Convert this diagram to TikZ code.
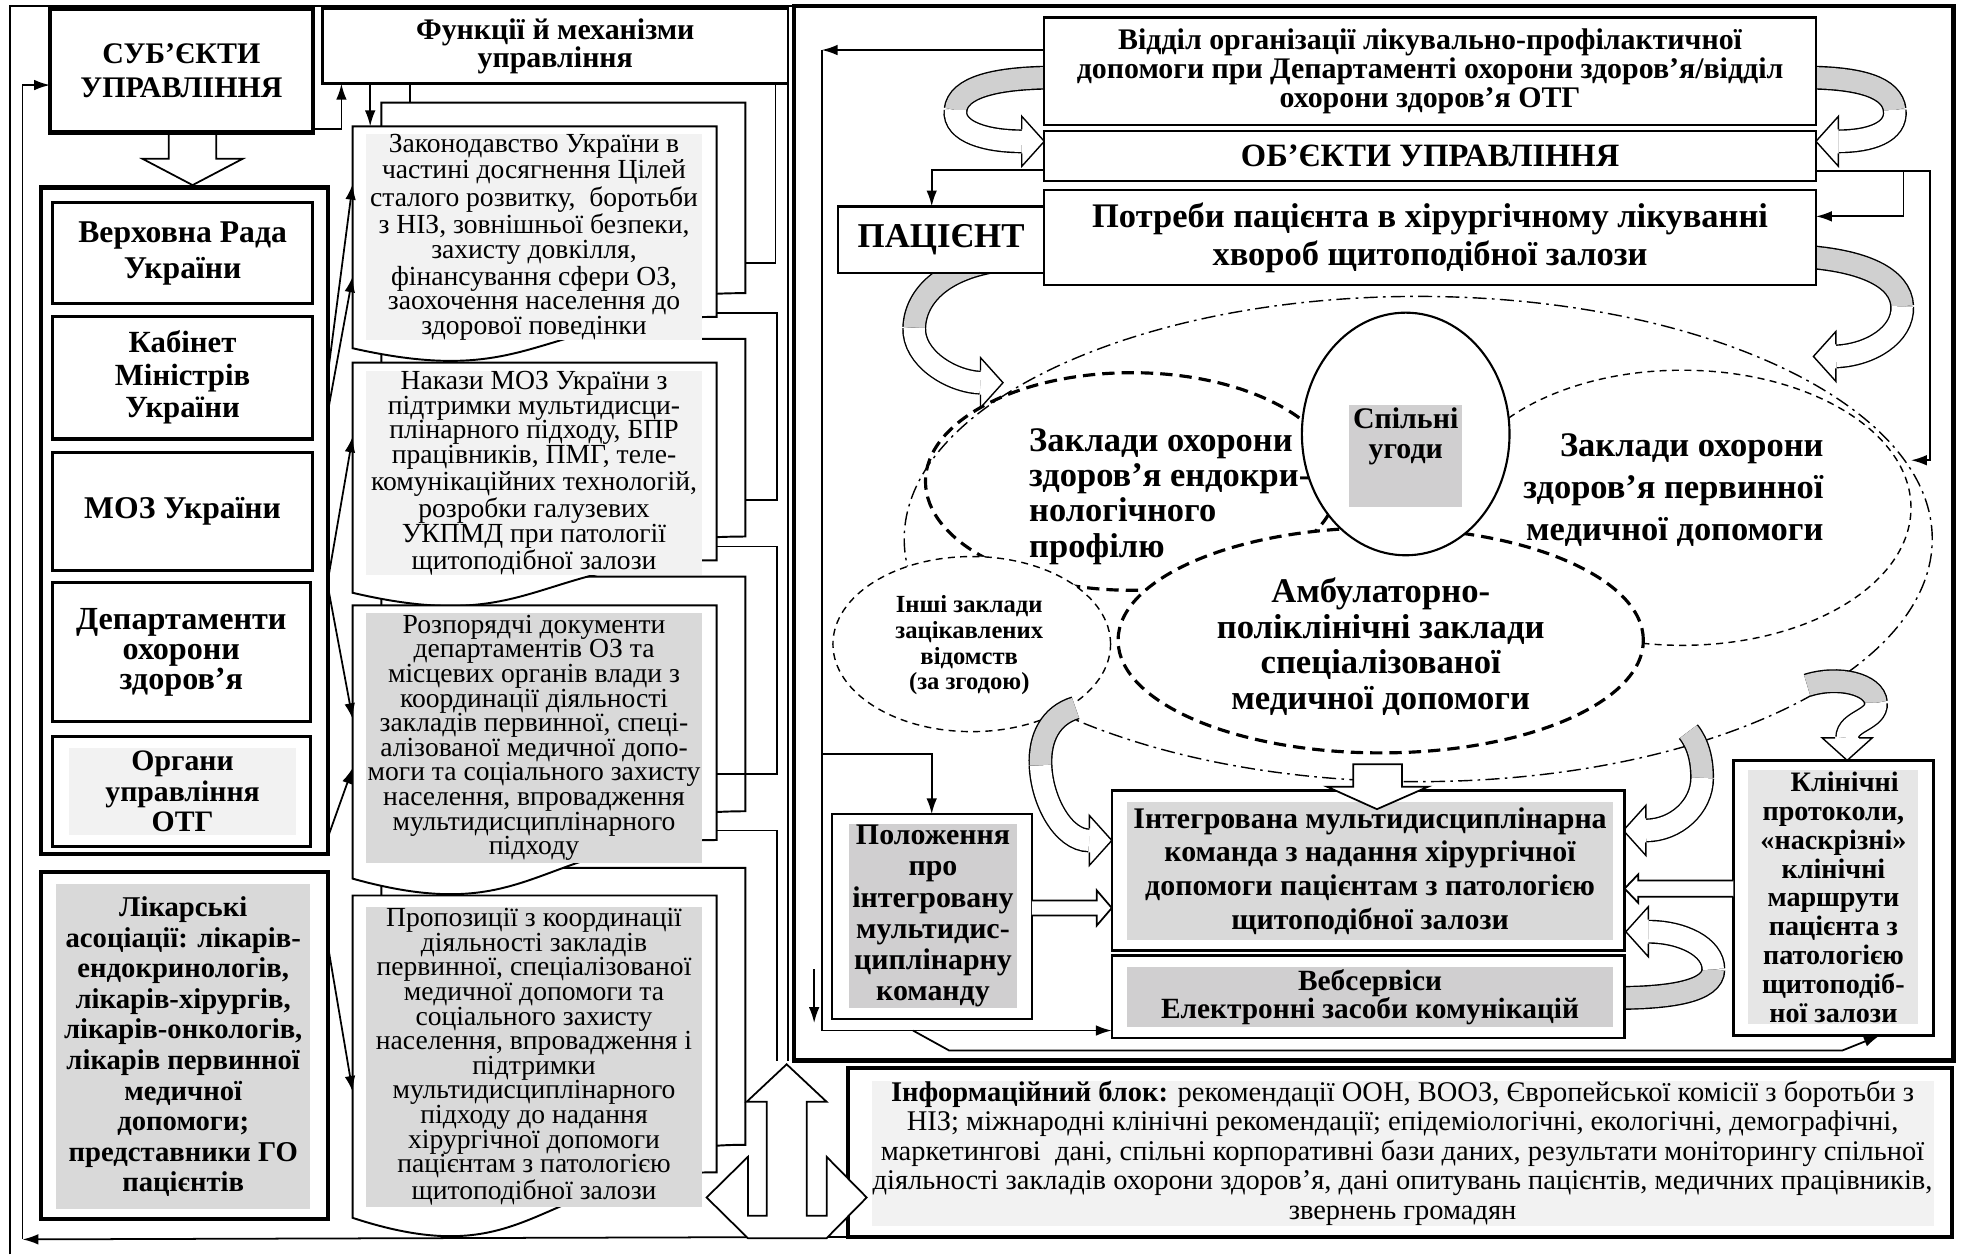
\documentclass[tikz,border=0pt]{standalone}
\usepackage{fontspec}
\setmainfont{Liberation Serif}
\usetikzlibrary{calc,shapes.geometric,arrows.meta}

\newcommand\pxu{0.025cm}
\definecolor{greyA}{HTML}{F2F2F2}
\definecolor{greyB}{HTML}{D9D9D9}
\definecolor{greyC}{HTML}{D0CFD0}
\definecolor{greyD}{HTML}{E6E6E6}
\definecolor{ribbongrey}{HTML}{D0D0D0}

\tikzset{
  sz/.style 2 args={minimum width=#1*\pxu, minimum height=#2*\pxu},
  frame/.style={draw, line width=2.4pt, inner sep=0pt, outer sep=0pt},
  subjbox/.style={draw, line width=1.8pt, fill=white, align=center, inner sep=0pt, outer sep=0pt},
  plainbox/.style={draw, line width=1.3pt, fill=white, align=center, inner sep=0pt, outer sep=0pt},
  greybg/.style={fill=#1, align=center, inner sep=0pt, outer sep=0pt},
  docframe/.style={inner sep=0pt, outer sep=0pt},
  docline/.style={draw, line width=1.1pt, fill=white},
  doctext/.style={font=\fontsize{15.7}{14}\selectfont},
  oval/.style={ellipse, draw, inner sep=0pt, outer sep=0pt},
  conn/.style={line width=1pt},
  arr/.style={line width=1pt, -{Latex[length=9pt,width=6pt]}},
  blockarrow/.style={draw, line width=1pt, fill=white, line join=miter},
  ribbon/.style={draw=black, line width=0.8pt, double=white, double distance=12pt},
  ribbonback/.style={ribbon, double=ribbongrey},
  headline/.style={draw, line width=0.8pt, line join=miter},
  dashdot/.style={line width=0.8pt, dash pattern=on 8pt off 3pt on 1.5pt off 3pt},
  bolddash/.style={line width=1.8pt, dash pattern=on 7pt off 4pt},
  thindash/.style={line width=0.8pt, dash pattern=on 4pt off 3pt}
}

\newcommand\docpath[1]{%
  \draw[docline] (#1.north west) -- (#1.north east)
    -- ($(#1.north east)!0.802!(#1.south east)$)
    .. controls ($(#1.north)!0.802!(#1.south)$) and ($(#1.north)!1.107!(#1.south)$)
    .. ($(#1.north west)!0.934!(#1.south west)$) -- cycle;}

\newcommand\headR[2]{%
  \fill[white] ({#1-18},{#2-20}) -- (#1,#2) -- ({#1-18},{#2+20}) -- cycle;
  \draw[headline] ({#1-18},{#2-9.6}) -- ({#1-18},{#2-20}) -- (#1,#2) -- ({#1-18},{#2+20}) -- ({#1-18},{#2+9.6});}
\newcommand\headL[2]{%
  \fill[white] ({#1+18},{#2-20}) -- (#1,#2) -- ({#1+18},{#2+20}) -- cycle;
  \draw[headline] ({#1+18},{#2-9.6}) -- ({#1+18},{#2-20}) -- (#1,#2) -- ({#1+18},{#2+20}) -- ({#1+18},{#2+9.6});}
\newcommand\headD[2]{%
  \fill[white] ({#1-20},{#2-18}) -- (#1,#2) -- ({#1+20},{#2-18}) -- cycle;
  \draw[headline] ({#1-9.6},{#2-18}) -- ({#1-20},{#2-18}) -- (#1,#2) -- ({#1+20},{#2-18}) -- ({#1+9.6},{#2-18});}

\begin{document}
\begin{tikzpicture}[x=0.025cm, y=-0.025cm]
\useasboundingbox (0,0) rectangle (1568,1007);

\draw[conn] (8,1003) -- (8,5) -- (635,5);
\node[frame, sz={927}{843}] (panel) at (1098.5,426.5) {};

% institutions
\node[oval, dashdot, sz={822}{388}]                 (big)   at (1134,431) {};
\node[oval, bolddash, sz={330}{174}]                (endo)  at (905,385)  {};
\node[oval, thindash, sz={366}{220}]                (prim)  at (1345,406) {};
\node[oval, bolddash, fill=white, sz={420}{180}]    (amb)   at (1104,512) {};
\node[oval, line width=1.2pt, fill=white, sz={166}{194}] (spil) at (1124,347) {};
\node[oval, thindash, fill=white, sz={222}{140}]    (inshi) at (777,515)  {};

\node[greybg=greyC, sz={90}{81}] (spilbg) at (1124,364.5) {};
\node[font=\fontsize{17}{17}\selectfont\bfseries, align=center] (spiltxt) at (1124,349) {Спільні\\угоди};
\node[font=\fontsize{19.6}{20}\selectfont\bfseries, align=left, anchor=west] (endotxt) at (818,397) {Заклади охорони\\здоров’я ендокри-\\нологічного\\профілю};
\node[font=\fontsize{19.6}{24}\selectfont\bfseries, align=right, anchor=east] (primtxt) at (1463,392) {Заклади охорони\\здоров’я первинної\\медичної допомоги};
\node[font=\fontsize{19.7}{20.3}\selectfont\bfseries, align=center] (ambtxt) at (1104,517) {Амбулаторно-\\поліклінічні заклади\\спеціалізованої\\медичної допомоги};
\node[font=\fontsize{14}{14.6}\selectfont\bfseries, align=center] (inshitxt) at (775,516) {Інші заклади\\зацікавлених\\відомств\\(за згодою)};

% curved arrows
\draw[ribbonback] (845,62) .. controls (795,62) and (766,70) .. (764,88);
\draw[ribbon] (764,88) .. controls (762,106) and (790,113) .. (817,113);
\headR{835}{113}
\draw[ribbonback] (1442,62) .. controls (1488,62) and (1513,70) .. (1515,88);
\draw[ribbon] (1515,88) .. controls (1517,106) and (1495,113) .. (1470,113);
\headL{1452}{113}
\draw[ribbonback] (800,208) .. controls (755,214) and (732,236) .. (731,262);
\draw[ribbon] (731,262) .. controls (730,286) and (760,305) .. (784,306);
\headR{802}{306}
\draw[ribbonback] (1440,205) .. controls (1490,208) and (1520,222) .. (1521,245);
\draw[ribbon] (1521,245) .. controls (1522,268) and (1495,284) .. (1468,285);
\headL{1450}{285}
\draw[ribbonback] (860,566) .. controls (840,572) and (831,590) .. (832,612);
\draw[ribbon] (832,612) .. controls (833,640) and (850,672) .. (871,672);
\headR{889}{672}
\draw[ribbonback] (1350,585) .. controls (1358,595) and (1361,608) .. (1361,622);
\draw[ribbon] (1361,622) .. controls (1361,645) and (1340,664) .. (1316,664);
\headL{1298}{664}
\draw[ribbonback] (1445,548) .. controls (1470,540) and (1499,547) .. (1500,562);
\draw[ribbon] (1500,562) .. controls (1501,576) and (1477,576) .. (1477,590);
\headD{1477}{608}
\draw[ribbonback] (1290,798) .. controls (1335,798) and (1370,793) .. (1370,775);
\draw[ribbon] (1370,775) .. controls (1370,757) and (1345,745) .. (1318,745);
\headL{1300}{745}

% objects of management
\node[plainbox, sz={617}{86}, font=\fontsize{17}{16.4}\selectfont\bfseries] (dept) at (1143.5,57) {Відділ організації лікувально-профілактичної\\допомоги при Департаменті охорони здоров’я/відділ\\охорони здоров’я ОТГ};
\node[plainbox, sz={617}{40}, font=\fontsize{18.5}{18}\selectfont\bfseries] (objects) at (1143.5,125) {ОБ’ЄКТИ УПРАВЛІННЯ};
\node[plainbox, sz={165}{53}, font=\fontsize{19.8}{20}\selectfont\bfseries] (patient) at (752.5,191.5) {ПАЦІЄНТ};
\node[plainbox, sz={617}{76}, font=\fontsize{19.6}{21.3}\selectfont\bfseries] (needs) at (1143.5,190) {Потреби пацієнта в хірургічному лікуванні\\хвороб щитоподібної залози};

\node[plainbox, sz={160}{164}] (polozh) at (745,733) {};
\node[greybg=greyC, sz={134}{147}, font=\fontsize{17}{17.8}\selectfont\bfseries] (polozhtxt) at (746,732.5) {Положення\\про\\інтегровану\\мультидис-\\циплінарну\\команду};
\node[plainbox, sz={410}{128}] (integr) at (1094,696) {};
\node[greybg=greyB, sz={389}{111}, font=\fontsize{17}{19.2}\selectfont\bfseries] (integrtxt) at (1095.5,696.5) {Інтегрована мультидисциплінарна\\команда з надання хірургічної\\допомоги пацієнтам з патологією\\щитоподібної залози};
\node[plainbox, sz={410}{66}] (web) at (1094,797) {};
\node[greybg=greyC, sz={389}{48}, font=\fontsize{16.7}{16}\selectfont\bfseries] (webtxt) at (1095.5,797) {Вебсервіси\\Електронні засоби комунікацій};
\node[plainbox, sz={160}{220}] (clin) at (1466,718) {};
\node[greybg=greyD, sz={136}{203}, font=\fontsize{16}{16.4}\selectfont\bfseries] (clintxt) at (1466,717.5) {\hspace*{0.8em}Клінічні\\протоколи,\\«наскрізні»\\клінічні\\маршрути\\пацієнта з\\патологією\\щитоподіб-\\ної залози};

\draw[blockarrow] (polozh.east |- 0,720) -- (877,720) -- (877,712) -- (integr.west |- 0,726) -- (877,740) -- (877,732) -- (polozh.east |- 0,732);
\draw[blockarrow] (clin.west |- 0,704) -- (1310,704) -- (1310,699) -- (integr.east |- 0,710.5) -- (1310,722) -- (1310,717) -- (clin.west |- 0,717);
\draw[blockarrow] (1082,611) -- (1082,629) -- (1061,629) -- (1101,647) -- (1142,629) -- (1121,629) -- (1121,611) -- cycle;

\coordinate (s1) at (651,775);
\coordinate (s2) at (651,818);
\draw[arr] (dept.west |- 0,40) -- (657,40);
\draw[arr] (657,40) |- (web.west |- 0,824);
\draw[arr] (657,603) -| (polozh.north);
\draw[arr] (s1) -- (s2);
\draw[arr] (730,824) -- (759,840) -- (1473,840) -- (clin.south -| 1503,0);
\draw[arr] (objects.west |- 0,136) -| (patient.north -| 745,0);
\draw[arr] (objects.east |- 0,137) -| (1522,173) -- (needs.east |- 0,173);
\draw[arr] (objects.east |- 0,137) -| (1543,368) -- (prim.east |- 0,368);

% subjects of management
\draw[blockarrow] (135,106) -- (135,127) -- (114,127) -- (154,148) -- (194,127) -- (173,127) -- (173,106) -- cycle;
\node[subjbox, line width=2.4pt, sz={210}{99}, font=\fontsize{17}{19.5}\selectfont\bfseries] (subj) at (145,56.5) {СУБ’ЄКТИ\\УПРАВЛІННЯ};
\node[plainbox, line width=1.5pt, sz={372}{60}, font=\fontsize{17}{15.6}\selectfont\bfseries] (func) at (444,37) {Функції й механізми\\управління};

\node[frame, sz={229}{533}] (list) at (147.5,416.5) {};
\node[subjbox, sz={208}{81},  font=\fontsize{18}{20.6}\selectfont\bfseries] (rada) at (146,202.5) {Верховна Рада\\України};
\node[subjbox, sz={208}{98},  font=\fontsize{17.5}{18.5}\selectfont\bfseries] (kmu)  at (146,302)   {Кабінет\\Міністрів\\України};
\node[subjbox, sz={208}{94},  font=\fontsize{18}{20}\selectfont\bfseries]   (moz)  at (146,409)   {МОЗ України};
\node[subjbox, sz={206}{111}, font=\fontsize{18.3}{17}\selectfont\bfseries]   (dep)  at (145,521.5) {Департаменти\\охорони\\здоров’я};
\node[subjbox, sz={206}{88}] (otg) at (145,633) {};
\node[greybg=greyA, sz={182}{70}, font=\fontsize{16.9}{17.4}\selectfont\bfseries] (otgtxt) at (146,633) {Органи\\управління\\ОТГ};

\node[frame, fill=white, sz={229}{278}] (assoc) at (147.5,836) {};
\node[greybg=greyB, sz={203}{260}, font=\fontsize{16.3}{17.4}\selectfont\bfseries] (assoctxt) at (146.5,837) {Лікарські\\асоціації: лікарів-\\ендокринологів,\\лікарів-хірургів,\\лікарів-онкологів,\\лікарів первинної\\медичної\\допомоги;\\представники ГО\\пацієнтів};

% documents
\node[docframe, sz={291}{190}] (b1) at (450.5,177)   {};
\node[docframe, sz={291}{197}] (b2) at (450.5,369.5) {};
\node[docframe, sz={291}{234}] (b3) at (450.5,578)   {};
\node[docframe, sz={291}{276}] (b4) at (450.5,832)   {};
\node[docframe, sz={291}{190}] (d1) at (427.5,196)   {};
\node[docframe, sz={291}{197}] (d2) at (427.5,388.5) {};
\node[docframe, sz={291}{234}] (d3) at (427.5,601)   {};
\node[docframe, sz={291}{276}] (d4) at (427.5,854)   {};
\docpath{b1} \docpath{b2} \docpath{b3} \docpath{b4}
\docpath{d1} \docpath{d2} \docpath{d3} \docpath{d4}

\node[greybg=greyA, sz={268}{161}, doctext] (law) at (427,189.5) {Законодавство України в\\частині досягнення Цілей\\сталого розвитку,\ \ боротьби\\з НІЗ, зовнішньої безпеки,\\захисту довкілля,\\фінансування сфери ОЗ,\\заохочення населення до\\здорової поведінки};
\node[greybg=greyA, sz={268}{161}, doctext] (orders) at (427,378.5) {Накази МОЗ України з\\підтримки мультидисци-\\плінарного підходу, БПР\\працівників, ПМГ, теле-\\комунікаційних технологій,\\розробки галузевих\\УКПМД при патології\\щитоподібної залози};
\node[greybg=greyB, sz={268}{200}, doctext] (dispos) at (427,590) {Розпорядчі документи\\департаментів ОЗ та\\місцевих органів влади з\\координації діяльності\\закладів первинної, спеці-\\алізованої медичної допо-\\моги та соціального захисту\\населення, впровадження\\мультидисциплінарного\\підходу};
\node[greybg=greyB, sz={268}{240}, doctext] (props) at (427,845) {Пропозиції з координації\\діяльності закладів\\первинної, спеціалізованої\\медичної допомоги та\\соціального захисту\\населення, впровадження і\\підтримки\\мультидисциплінарного\\підходу до надання\\хірургічної допомоги\\пацієнтам з патологією\\щитоподібної залози};

\draw[arr] (subj.east |- 0,103) -| (func.south -| 273,0);
\draw[arr] (func.south -| 296,0) -- (d1.north -| 296,0);
\draw[conn] (func.south -| 328,0) -- (b1.north -| 328,0);
\draw[conn] (func.south -| 620,0) |- (b1.east |- 0,210);
\draw[conn] (d1.east |- 0,250) -| (621,400) -- (b2.east |- 0,400);
\draw[conn] (d2.east |- 0,437) -| (621,619) -- (d3.east |- 0,619);
\draw[conn] (d3.east |- 0,664) -| (621,848);
\draw[conn] (func.south east) -- (630,848);

\draw[arr] (list.east |- 0,300)  -- (d1.west |- 0,147);
\draw[arr] (list.east |- 0,330)  -- (d1.west |- 0,221);
\draw[arr] (list.east |- 0,465)  -- (d2.west |- 0,349);
\draw[arr] (list.east |- 0,468)  -- (d3.west |- 0,575);
\draw[arr] (list.east |- 0,670)  -- (d3.west |- 0,614);
\draw[arr] (assoc.east |- 0,755) -- (d4.west |- 0,873);

% information block
\node[frame, fill=white, sz={883}{135}] (info) at (1119.5,921.5) {};
\node[greybg=greyA, sz={849}{116}, font=\fontsize{16.2}{16.7}\selectfont] (infotxt) at (1121.5,922) {\textbf{Інформаційний блок:} рекомендації ООН, ВООЗ, Європейської комісії з боротьби з\\НІЗ; міжнародні клінічні рекомендації; епідеміологічні, екологічні, демографічні,\\маркетингові\ \ дані, спільні корпоративні бази даних, результати моніторингу спільної\\діяльності закладів охорони здоров’я, дані опитувань пацієнтів, медичних працівників,\\звернень громадян};

\draw[arr] (info.south west) -- (18,991);
\draw[arr] (18,991) |- (subj.west |- 0,68);
\draw[blockarrow] (629,851) -- (661,881) -- (645,881) -- (645,972) -- (661,972) -- (661,925) -- (693,957.5) -- (661,990) -- (598,990) -- (565,957.5) -- (598,925) -- (598,972) -- (613,972) -- (613,881) -- (597,881) -- cycle;
\end{tikzpicture}
\end{document}
